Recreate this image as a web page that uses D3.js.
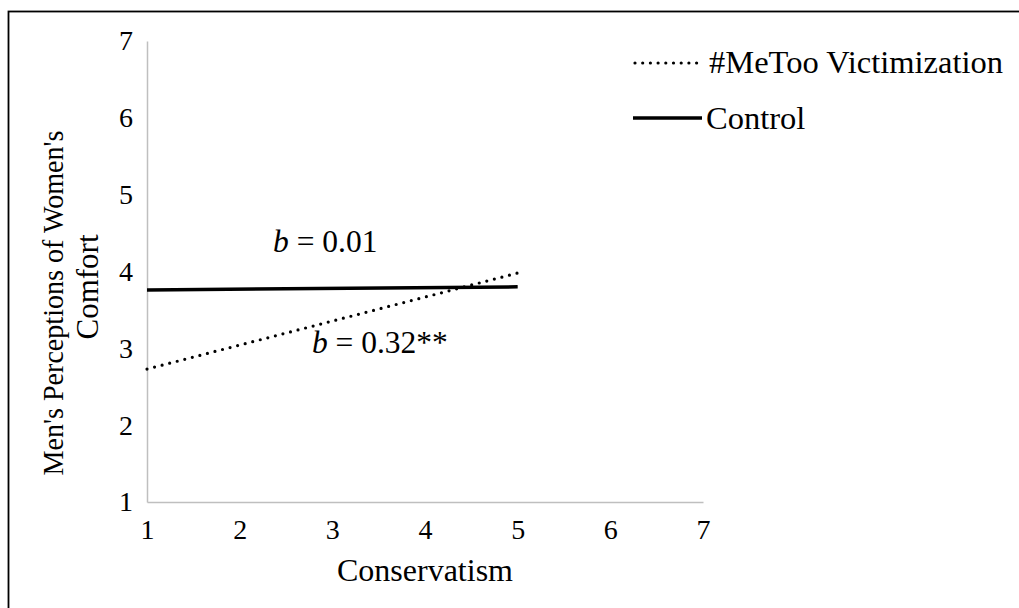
<!DOCTYPE html>
<html>
<head>
<meta charset="utf-8">
<script src="https://cdn.jsdelivr.net/npm/d3@7"></script>
<style>
  body { margin: 0; background: #fff; }
  svg { display: block; font-family: "Liberation Serif", "Times New Roman", serif; }
</style>
</head>
<body>
<div id="chart"></div>
<script>
// podaci
const xTicks = [1, 2, 3, 4, 5, 6, 7];
const yTicks = [1, 2, 3, 4, 5, 6, 7];
const conservatism = [1, 5];
const metooValues = [2.73, 3.98];
const controlValues = [3.76, 3.8];
const seriesNames = ["#MeToo Victimization", "Control"];
const slopeLabels = ["0.32**", "0.01"];

const width = 1019;
const height = 608;

const svg = d3
  .select("#chart")
  .append("svg")
  .attr("width", width)
  .attr("height", height);

// okvir
svg
  .append("rect")
  .attr("x", 8.5)
  .attr("y", 11.5)
  .attr("width", 1100)
  .attr("height", 700)
  .attr("fill", "none")
  .attr("stroke", "#000")
  .attr("stroke-width", 1.8);

const x = d3.scaleLinear().domain([1, 7]).range([147, 703]);
const y = d3.scaleLinear().domain([1, 7]).range([502, 41]);

// os x
const xAxis = svg
  .append("g")
  .attr("transform", `translate(0,${y(1)})`)
  .call(d3.axisBottom(x).tickValues(xTicks).tickSize(0).tickPadding(17).tickFormat(d3.format("d")));
xAxis.select(".domain").attr("stroke", "#bfbfbf").attr("stroke-width", 1.5);
xAxis.selectAll("text").attr("font-size", 28).attr("font-family", "Liberation Serif").attr("fill", "#000");

// os y
const yAxis = svg
  .append("g")
  .attr("transform", `translate(${x(1)},0)`)
  .call(d3.axisLeft(y).tickValues(yTicks).tickSize(0).tickPadding(14).tickFormat(d3.format("d")));
yAxis.select(".domain").attr("stroke", "#bfbfbf").attr("stroke-width", 1.5);
yAxis.selectAll("text").attr("font-size", 28).attr("font-family", "Liberation Serif").attr("fill", "#000");

// naslovi osi
svg
  .append("text")
  .attr("x", 425)
  .attr("y", 581)
  .attr("text-anchor", "middle")
  .attr("font-size", 32)
  .text("Conservatism");

svg
  .append("text")
  .attr("transform", "translate(63,303) rotate(-90)")
  .attr("text-anchor", "middle")
  .attr("font-size", 30)
  .attr("textLength", 345)
  .attr("lengthAdjust", "spacingAndGlyphs")
  .text("Men's Perceptions of Women's");
svg
  .append("text")
  .attr("transform", "translate(98,287) rotate(-90)")
  .attr("text-anchor", "middle")
  .attr("font-size", 31)
  .text("Comfort");

const line = d3
  .line()
  .x((d) => x(d[0]))
  .y((d) => y(d[1]));

// linije
svg
  .append("path")
  .datum(d3.zip(conservatism, controlValues))
  .attr("d", line)
  .attr("fill", "none")
  .attr("stroke", "#000")
  .attr("stroke-width", 3.5);

svg
  .append("path")
  .datum(d3.zip(conservatism, metooValues))
  .attr("d", line)
  .attr("fill", "none")
  .attr("stroke", "#000")
  .attr("stroke-width", 3.2)
  .attr("stroke-linecap", "round")
  .attr("stroke-dasharray", "0,7.8");

// oznake nagiba
function slopeText(vx, vy, value) {
  const t = svg
    .append("text")
    .attr("x", x(vx))
    .attr("y", y(vy))
    .attr("font-size", 31.5);
  t.append("tspan").attr("font-style", "italic").text("b");
  t.append("tspan").text(" = " + value);
}
slopeText(2.36, 4.25, slopeLabels[1]);
slopeText(2.78, 2.94, slopeLabels[0]);

// legenda
const legend = svg.append("g");
legend
  .append("line")
  .attr("x1", 635)
  .attr("x2", 697)
  .attr("y1", 63)
  .attr("y2", 63)
  .attr("stroke", "#000")
  .attr("stroke-width", 3.2)
  .attr("stroke-linecap", "round")
  .attr("stroke-dasharray", "0,7.7");
legend
  .append("text")
  .attr("x", 709)
  .attr("y", 73)
  .attr("font-size", 32.5)
  .text(seriesNames[0]);
legend
  .append("line")
  .attr("x1", 633)
  .attr("x2", 702)
  .attr("y1", 118)
  .attr("y2", 118)
  .attr("stroke", "#000")
  .attr("stroke-width", 3.5);
legend
  .append("text")
  .attr("x", 706)
  .attr("y", 129)
  .attr("font-size", 32.5)
  .text(seriesNames[1]);
</script>
</body>
</html>
